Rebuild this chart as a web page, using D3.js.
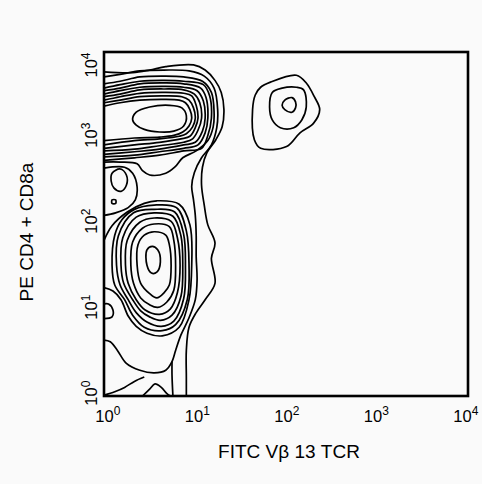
<!DOCTYPE html>
<html>
<head>
<meta charset="utf-8">
<script src="https://cdn.jsdelivr.net/npm/d3@7"></script>
<style>
  html, body { margin: 0; background: #fafafa; }
  svg { display: block; }
</style>
</head>
<body>
<div id="chart"></div>
<script>
// values are log10 decades: [FITC Vb13 TCR, PE CD4 + CD8a]
const tickExponents = [0, 1, 2, 3, 4];
const xTitle = "FITC Vβ 13 TCR";
const yTitle = "PE CD4 + CD8a";

// contours that run in from the left edge and leave through an edge
const outerContours = [
  [[0,3.77],[.32,3.76],[.51,3.79],[.69,3.83],[1.00,3.85],[1.13,3.79],[1.24,3.67],[1.31,3.53],[1.34,3.33],[1.32,3.13],[1.25,2.98],[1.15,2.83],[1.10,2.66],[1.09,2.45],[1.12,2.22],[1.16,1.99],[1.24,1.78],[1.20,1.60],[1.24,1.31],[1.13,1.12],[1.03,.97],[.95,.80],[.92,.53],[.92,.22],[.92,0]],
  [[0,3.71],[.18,3.74],[.40,3.78],[.67,3.79],[.95,3.78],[1.12,3.72],[1.23,3.58],[1.27,3.33],[1.26,3.12],[1.20,2.92],[1.09,2.77],[1.01,2.60],[.98,2.44],[1.00,2.28],[1.02,2.10],[1.03,1.87],[1.03,1.62],[1.04,1.35],[1.02,1.12],[.95,.91],[.86,.71],[.80,.53],[.76,.40],[.69,.30],[.56,.27],[.40,.30],[.25,.38],[.15,.53],[.07,.63],[0,.65]]
];

// CD4/CD8 high population, rings open to the left edge
const topRings = [
  [[0,3.63],[.18,3.66],[.40,3.71],[.67,3.72],[.89,3.71],[1.10,3.66],[1.20,3.53],[1.23,3.30],[1.22,3.13],[1.16,2.97],[1.03,2.85],[.88,2.77],[.79,2.66],[.69,2.59],[.51,2.57],[.43,2.62],[.37,2.70],[.18,2.72],[0,2.72]],
  [[0,3.58],[.18,3.62],[.40,3.66],[.67,3.67],[.89,3.66],[1.11,3.62],[1.18,3.49],[1.20,3.23],[1.16,3.03],[1.09,2.88],[.89,2.85],[.62,2.80],[.34,2.77],[0,2.74]],
  [[0,3.55],[.18,3.58],[.40,3.63],[.67,3.64],[.89,3.63],[1.08,3.58],[1.14,3.47],[1.16,3.23],[1.13,3.06],[1.05,2.92],[.89,2.88],[.62,2.84],[.34,2.80],[0,2.78]],
  [[0,3.51],[.18,3.55],[.40,3.59],[.67,3.60],[.89,3.59],[1.04,3.55],[1.11,3.43],[1.13,3.23],[1.10,3.08],[1.02,2.95],[.89,2.92],[.62,2.87],[.34,2.84],[0,2.81]],
  [[0,3.48],[.18,3.51],[.40,3.56],[.67,3.57],[.89,3.56],[1.01,3.51],[1.07,3.41],[1.09,3.23],[1.05,3.09],[.99,2.99],[.89,2.95],[.62,2.91],[.34,2.87],[0,2.85]],
  [[0,3.44],[.18,3.48],[.40,3.52],[.67,3.53],[.89,3.52],[.98,3.49],[1.03,3.38],[1.05,3.23],[1.02,3.12],[.96,3.02],[.86,2.99],[.62,2.95],[.34,2.92],[0,2.88]],
  [[0,3.41],[.18,3.44],[.40,3.48],[.67,3.49],[.87,3.48],[.95,3.44],[1.00,3.35],[1.02,3.23],[.99,3.13],[.92,3.05],[.84,3.02],[.62,2.99],[.34,2.97],[0,2.92]],
  [[0,3.37],[.18,3.41],[.40,3.44],[.67,3.45],[.84,3.44],[.91,3.41],[.96,3.33],[.98,3.23],[.95,3.14],[.88,3.07],[.78,3.03],[.62,3.01],[.34,3.00],[0,2.97]]
];
const topCore = [[.32,3.21],[.36,3.30],[.51,3.36],[.73,3.38],[.87,3.35],[.92,3.26],[.89,3.14],[.78,3.08],[.62,3.07],[.45,3.10],[.36,3.15]];

// small bump between the two populations
const saddleRing = [[0,2.65],[.23,2.66],[.32,2.59],[.37,2.43],[.35,2.28],[.27,2.19],[.13,2.13],[0,2.10]];
const saddleBlob = [[.09,2.59],[.18,2.64],[.25,2.57],[.25,2.45],[.19,2.38],[.11,2.42],[.08,2.50]];
const saddleSpeck = [[.09,2.28],[.13,2.28],[.13,2.24],[.09,2.24]];

// double negative population
const lowerCore = [[.48,1.70],[.54,1.74],[.60,1.70],[.63,1.56],[.59,1.44],[.53,1.43],[.48,1.52]];
const lowerRings = [
  [[.56,1.91],[.69,1.87],[.73,1.76],[.75,1.52],[.73,1.29],[.67,1.20],[.59,1.14],[.51,1.19],[.41,1.31],[.37,1.52],[.38,1.76],[.45,1.87]],
  [[.56,2.00],[.73,1.97],[.78,1.81],[.80,1.52],[.78,1.23],[.70,1.09],[.60,1.03],[.51,1.06],[.41,1.14],[.33,1.31],[.30,1.52],[.32,1.79],[.43,1.95]],
  [[.56,2.07],[.75,2.03],[.82,1.84],[.85,1.52],[.82,1.20],[.74,1.01],[.62,.95],[.46,1.00],[.36,1.12],[.27,1.31],[.24,1.52],[.26,1.81],[.40,2.02]],
  [[.56,2.13],[.77,2.09],[.86,1.86],[.88,1.52],[.86,1.16],[.76,.94],[.63,.88],[.51,.92],[.41,.99],[.32,1.12],[.22,1.31],[.19,1.52],[.21,1.84],[.36,2.08]],
  [[.56,2.17],[.79,2.14],[.89,1.88],[.91,1.52],[.89,1.13],[.78,.87],[.64,.81],[.48,.86],[.36,.97],[.27,1.12],[.18,1.29],[.14,1.52],[.16,1.86],[.33,2.13]],
  [[.56,2.22],[.81,2.19],[.92,1.92],[.95,1.52],[.93,1.12],[.80,.83],[.65,.76],[.45,.80],[.32,.94],[.23,1.12],[.12,1.29],[.09,1.52],[.12,1.87],[.20,2.05],[.34,2.17]]
];
const lowerOuterRing = [[0,1.81],[.09,1.98],[.26,2.14],[.45,2.24],[.59,2.27],[.84,2.23],[.96,1.99],[.98,1.52],[.95,1.12],[.84,.80],[.65,.70],[.48,.73],[.36,.81],[.27,.93],[.19,1.12],[.10,1.22],[0,1.26]];

// pieces near the bottom-left corner
const baseLines = [
  [[.76,.40],[.76,.24],[.77,0]],
  [[0,.01],[.12,.05],[.23,.10],[.34,.17],[.45,.22]],
  [[.43,0],[.51,.08],[.57,.14],[.64,.10],[.70,.03],[.74,0]],
  [[0,1.07],[.05,1.07],[.10,1.00],[.09,.92],[0,.90]]
];

// Vb13+ T cells
const vb13Rings = [
  [[1.69,3.50],[1.75,3.59],[1.86,3.65],[2.15,3.73],[2.26,3.64],[2.35,3.48],[2.41,3.33],[2.34,3.17],[2.19,3.06],[2.04,2.90],[1.75,2.88],[1.68,2.98],[1.66,3.33]],
  [[1.88,3.53],[1.99,3.58],[2.15,3.59],[2.23,3.56],[2.26,3.36],[2.21,3.21],[2.12,3.12],[1.97,3.12],[1.88,3.21],[1.85,3.36]],
  [[2.02,3.44],[2.10,3.47],[2.14,3.42],[2.14,3.35],[2.10,3.30],[2.02,3.33],[1.99,3.38]]
];

const width = 482, height = 484;
const frame = { left: 104, top: 52, right: 468, bottom: 396 };
const font = "'Liberation Sans', Arial, Helvetica, sans-serif";

const svg = d3.select("#chart").append("svg")
  .attr("width", width)
  .attr("height", height);

svg.append("rect").attr("width", width).attr("height", height).attr("fill", "#fafafa");

const x = d3.scaleLog().domain([1, 1e4]).range([frame.left, 462]);
const y = d3.scaleLog().domain([1, 1e4]).range([frame.bottom, frame.top]);

svg.append("clipPath").attr("id", "plot-clip")
  .append("rect")
  .attr("x", frame.left).attr("y", frame.top)
  .attr("width", frame.right - frame.left)
  .attr("height", frame.bottom - frame.top);

const openLine = d3.line()
  .x(d => x(10 ** d[0]))
  .y(d => y(10 ** d[1]))
  .curve(d3.curveCatmullRom);

const closedLine = d3.line()
  .x(d => x(10 ** d[0]))
  .y(d => y(10 ** d[1]))
  .curve(d3.curveCatmullRomClosed);

const openContours = [...outerContours, ...topRings, saddleRing, lowerOuterRing, ...baseLines];
const closedContours = [topCore, saddleBlob, saddleSpeck, lowerCore, ...lowerRings, ...vb13Rings];

const plot = svg.append("g").attr("clip-path", "url(#plot-clip)");

plot.selectAll(".open")
  .data(openContours)
  .join("path")
  .attr("class", "open")
  .attr("d", openLine);

plot.selectAll(".closed")
  .data(closedContours)
  .join("path")
  .attr("class", "closed")
  .attr("d", closedLine);

plot.selectAll("path")
  .attr("fill", "none")
  .attr("stroke", "#000")
  .attr("stroke-width", 1.7)
  .attr("stroke-linejoin", "round");

// frame
svg.append("rect")
  .attr("x", frame.left).attr("y", frame.top)
  .attr("width", frame.right - frame.left)
  .attr("height", frame.bottom - frame.top)
  .attr("fill", "none")
  .attr("stroke", "#000")
  .attr("stroke-width", 2.6);

const ticks = tickExponents.map(e => 10 ** e);

// superscript tick labels "10^n"
function powerLabel(text, d) {
  text.text(null)
    .attr("dy", null)
    .attr("fill", "#000")
    .attr("font-size", 16.5)
    .attr("text-anchor", "start");
  text.append("tspan").text("10");
  text.append("tspan")
    .attr("font-size", 12)
    .attr("dy", -7)
    .text(Math.round(Math.log10(d)));
}

const xAxis = svg.append("g")
  .attr("transform", `translate(0,${frame.bottom})`)
  .attr("font-family", font)
  .call(d3.axisBottom(x).tickValues(ticks).tickSize(0).tickFormat(""));
xAxis.select(".domain").remove();
xAxis.selectAll(".tick text").each(function (d) {
  const t = d3.select(this);
  powerLabel(t, d);
  const w = this.getSubStringLength(0, 2);
  t.attr("y", 26).attr("x", -w / 2);
});

const yAxis = svg.append("g")
  .attr("transform", `translate(${frame.left},0)`)
  .attr("font-family", font)
  .call(d3.axisLeft(y).tickValues(ticks).tickSize(0).tickFormat(""));
yAxis.select(".domain").remove();
yAxis.selectAll(".tick text").each(function (d) {
  const t = d3.select(this);
  powerLabel(t, d);
  const w = this.getSubStringLength(0, 2);
  const total = this.getComputedTextLength();
  // keep the top label inside the frame
  const start = Math.min(-w / 2, y(d) - frame.top - total);
  t.attr("transform", "rotate(-90)").attr("x", start).attr("y", -7);
});

// axis titles
svg.append("text")
  .attr("x", 289)
  .attr("y", 458)
  .attr("text-anchor", "middle")
  .attr("font-family", font)
  .attr("font-size", 19)
  .text(xTitle);

svg.append("text")
  .attr("transform", "translate(33,232) rotate(-90)")
  .attr("text-anchor", "middle")
  .attr("font-family", font)
  .attr("font-size", 19)
  .text(yTitle);
</script>
</body>
</html>
